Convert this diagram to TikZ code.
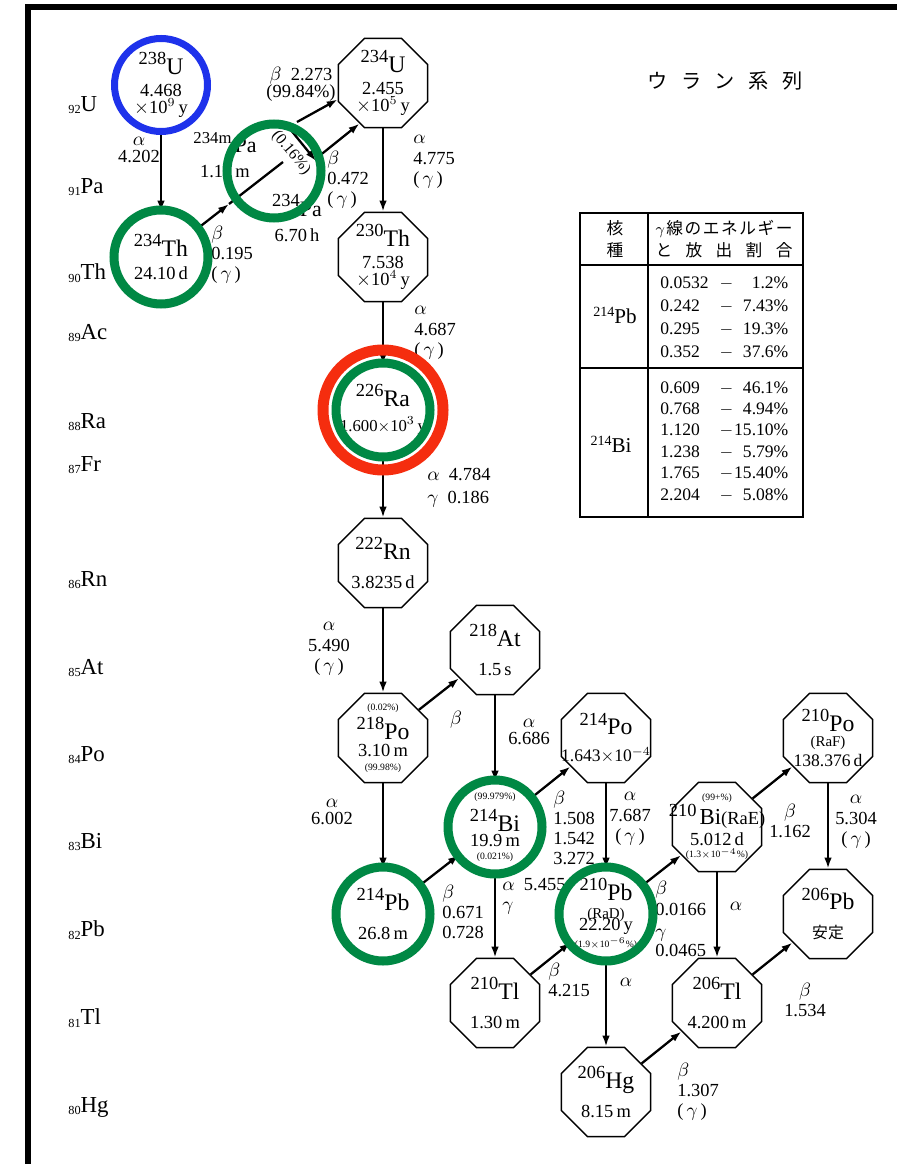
\documentclass[tikz,border=0pt]{standalone}
\usepackage{fontspec}
\setmainfont{Liberation Serif}
\newfontfamily\jp{Noto Sans CJK JP}
\usetikzlibrary{shapes.geometric,arrows.meta}
\definecolor{cblue}{RGB}{30,50,235}
\definecolor{cgreen}{RGB}{0,136,68}
\definecolor{cred}{RGB}{245,45,15}
\newcommand{\fsym}{\fontsize{13.5}{15}\selectfont}
\newcommand{\fnum}{\fontsize{10.5}{11.5}\selectfont}
\newcommand{\fsml}{\fontsize{5.5}{6}\selectfont}
\newcommand{\iso}[2]{\raisebox{5.5pt}{\fnum #1}{\fsym #2}}
\newcommand{\zlab}[2]{\raisebox{-1.5pt}{\fontsize{7}{7}\selectfont #1}{\fontsize{13}{14}\selectfont #2}}
\newcommand{\tiso}[2]{\raisebox{4pt}{\fontsize{8}{8}\selectfont #1}{\fontsize{12}{12}\selectfont #2}}
\newcommand{\gline}[2]{\makebox[11.7mm][l]{#1}\makebox[3mm]{$-$}\makebox[10.9mm][r]{#2}}
\newcommand{\nuc}[3]{\node[oct] (#1) at (#2) {};
  \node[nt] (#1-t) at (#1) {#3};}
\tikzset{
  oct/.style  ={draw,regular polygon,regular polygon sides=8,minimum size=19.3mm,
                inner sep=0pt,line width=0.8pt},
  nt/.style   ={align=center,inner sep=0pt,font={\fnum\lineskiplimit=-99pt}},
  lab/.style  ={align=center,inner sep=0pt,font={\fnum\lineskiplimit=-99pt}},
  labl/.style ={lab,align=left,anchor=west},
  arr/.style  ={-{Latex[length=2.2mm,width=1.5mm]},line width=1.3pt},
  ring/.style ={cgreen,line width=1.8mm},
  elab/.style ={anchor=west,inner sep=0pt},
  tline/.style={line width=1.1pt},
  jtxt/.style ={align=center,inner sep=0pt,font={\jp\fontsize{9.5}{12.5}\selectfont\lineskiplimit=-99pt}},
  trow/.style ={align=left,anchor=west,inner sep=0pt,font={\fontsize{10}{#1}\selectfont\lineskiplimit=-99pt}},
}
\begin{document}
\begin{tikzpicture}[x=0.2mm,y=-0.2mm]
 \useasboundingbox (0,0) rectangle (897,1164);
 \draw[line width=1.2mm] (897,7) -- (28,7) -- (28,1164);
 % element rows
 \foreach \z/\s/\y in {92/U/105,91/Pa/187,90/Th/273,89/Ac/333,88/Ra/422,87/Fr/465,86/Rn/580,
                       85/At/668,84/Po/755,83/Bi/842,82/Pb/930,81/Tl/1018,80/Hg/1107}
   \node[elab] (z\z) at (68,\y) {\zlab{\z}{\s}};
 % nuclides
 \nuc{u238}{161,85}{\iso{238}{U}\\[1pt]4.468\\[-1.8pt]$\times$10$^{9}$\,y}
 \nuc{th234}{161,257}{\iso{234}{Th}\\[1.6pt]24.10\,d}
 \nuc{u234}{383,83}{\iso{234}{U}\\[1pt]2.455\\[-1.8pt]$\times$10$^{5}$\,y}
 \nuc{th230}{383,257}{\iso{230}{Th}\\[1pt]7.538\\[-1.8pt]$\times$10$^{4}$\,y}
 \nuc{ra226}{383,410}{\iso{226}{Ra}\\[2.7pt]{\fontsize{9.5}{10}\selectfont 1.600$\times$10$^{3}$\,y}}
 \nuc{rn222}{383,563}{\iso{222}{Rn}\\[5pt]3.8235\,d}
 \nuc{po218}{383,738}{{\fsml(0.02\%)}\\[5pt]\iso{218}{Po}\\[-1.8pt]3.10\,m\\[-3.5pt]{\fsml(99.98\%)}}
 \nuc{at218}{495,650}{\iso{218}{At}\\[5pt]1.5\,s}
 \nuc{pb214}{383,914}{\iso{214}{Pb}\\[5pt]26.8\,m}
 \nuc{bi214}{495,827}{{\fsml(99.979\%)}\\[6.5pt]\iso{214}{Bi}\\[-3pt]19.9\,m\\[-4pt]{\fsml(0.021\%)}}
 \nuc{po214}{606,738}{\iso{214}{Po}\\[3.9pt]{\fontsize{10}{11}\selectfont 1.643$\times$10$^{-4}$}}
 \nuc{tl210}{495,1003}{\iso{210}{Tl}\\[5pt]1.30\,m}
 \nuc{pb210}{606,914}{\iso{210}{Pb}\\[-1.3pt]{\fontsize{8.5}{9}\selectfont(RaD)}\\[-4.7pt]22.20\,y\\[-1.8pt]{\fsml(1.9$\times$10$^{-6}$\%)}}
 \nuc{hg206}{606,1092}{\iso{206}{Hg}\\[5pt]8.15\,m}
 \nuc{bi210}{717,827}{{\fsml(99+\%)}\\[2.2pt]\raisebox{5pt}{210}\,{\fontsize{13}{13}\selectfont Bi}{\fontsize{10.5}{11}\selectfont(RaE)}\\[0.5pt]5.012\,d\\[-4.7pt]{\fsml(1.3$\times$10$^{-4}$\%)}}
 \nuc{tl206}{717,1003}{\iso{206}{Tl}\\[5pt]4.200\,m}
 \nuc{po210}{828,738}{\iso{210}{Po}\\[-3pt]{\fontsize{8.5}{9}\selectfont(RaF)}\\[0pt]{\fontsize{10}{11}\selectfont 138.376\,d}}
 \nuc{pb206}{828,914}{\iso{206}{Pb}\\[5pt]{\jp\fontsize{9}{10}\selectfont 安定}}
 % 234Pa pair
 \coordinate (pa) at (274,171);
 \coordinate (pa-in) at (229,204);
 \coordinate (pa-div) at (283,162);
 \coordinate (pam-o) at (297,122);
 \coordinate (pa-o) at (318,157);
 \coordinate (it-a) at (290,129);
 \coordinate (it-b) at (316,161);
 \node[lab] (pam) at (225,155) {\raisebox{5.5pt}{\fontsize{9.5}{10}\selectfont 234m}\,{\fontsize{12.5}{13}\selectfont Pa}\\[2.7pt]1.17\,m};
 \node[lab] (pag) at (297,218) {\raisebox{5.5pt}{\fnum 234}{\fontsize{12.5}{13}\selectfont Pa}\\[2.7pt]6.70\,h};
 \node[lab,rotate=-50,font=\fontsize{9}{10}\selectfont] (it-l) at (291,153) {(0.16\%)};
 % decays
 \draw[arr] (u238) -- (th234);
 \draw[arr] (th234) -- (pa-in);
 \draw[line width=1.3pt] (pa-in) -- (pa-div);
 \draw[arr] (pam-o) -- (u234.200);
 \draw[arr] (pa-o) -- (u234.240);
 \draw[arr] (it-a) -- (it-b);
 \draw[arr] (u234) -- (th230);
 \draw[arr] (th230) -- (ra226);
 \draw[arr] (ra226) -- (rn222);
 \draw[arr] (rn222) -- (po218);
 \draw[arr] (po218) -- (at218);
 \draw[arr] (po218) -- (pb214);
 \draw[arr] (at218) -- (bi214);
 \draw[arr] (pb214) -- (bi214);
 \draw[arr] (bi214) -- (po214);
 \draw[arr] (bi214) -- (tl210);
 \draw[arr] (po214) -- (pb210);
 \draw[arr] (tl210) -- (pb210);
 \draw[arr] (pb210) -- (bi210);
 \draw[arr] (pb210) -- (hg206);
 \draw[arr] (hg206) -- (tl206);
 \draw[arr] (bi210) -- (po210);
 \draw[arr] (bi210) -- (tl206);
 \draw[arr] (po210) -- (pb206);
 \draw[arr] (tl206) -- (pb206);
 % decay labels
 \node[lab] (a1) at (139,150) {$\alpha$\\[-2pt]4.202};
 \node[labl] (b1) at (211,255) {$\beta$\\0.195\\(\,$\gamma$\,)};
 \node[lab] (b2) at (301,84) {$\beta$\ \ 2.273\\[-2pt](99.84\%)};
 \node[labl] (b3) at (327,180) {$\beta$\\0.472\\(\,$\gamma$\,)};
 \node[labl] (a2) at (413,162) {$\alpha$\\4.775\\(\,$\gamma$\,)};
 \node[labl] (a3) at (414,333) {$\alpha$\\4.687\\(\,$\gamma$\,)};
 \node[labl] (a4) at (427,488) {$\alpha$\ \ 4.784\\[1.5pt]$\gamma$\ \ 0.186};
 \node[lab] (a5) at (329,649) {$\alpha$\\5.490\\(\,$\gamma$\,)};
 \node[lab] (b4) at (456,720) {$\beta$};
 \node[lab] (a6) at (529,732) {$\alpha$\\[-2pt]6.686};
 \node[lab] (a7) at (332,812) {$\alpha$\\[-2pt]6.002};
 \node[labl] (b5) at (553,828) {$\beta$\\1.508\\1.542\\3.272};
 \node[lab] (a8) at (630,819) {$\alpha$\\7.687\\(\,$\gamma$\,)};
 \node[labl] (b6) at (442,912) {$\beta$\\0.671\\0.728};
 \node[labl] (a9) at (502,896) {$\alpha$\ \ 5.455\\$\gamma$};
 \node[labl] (b7) at (655,919) {$\beta$\\0.0166\\[1.5pt]$\gamma$\\[-1pt]0.0465};
 \node[labl] (b8) at (548,980) {$\beta$\\4.215};
 \node[lab] (a10) at (626,982) {$\alpha$};
 \node[labl] (b9) at (677,1092) {$\beta$\\1.307\\(\,$\gamma$\,)};
 \node[lab] (a11) at (736,906) {$\alpha$};
 \node[lab] (b10) at (790,821) {$\beta$\\1.162};
 \node[lab] (a12) at (856,822) {$\alpha$\\5.304\\(\,$\gamma$\,)};
 \node[lab] (b11) at (805,1000) {$\beta$\\1.534};
 % title and gamma table
 \node[inner sep=0pt,font={\jp\fontsize{11.5}{12}\selectfont}] (title) at (725,81)
   {\makebox[31mm][s]{ウ\hfill ラ\hfill ン\hfill 系\hfill 列}};
 \draw[tline] (580,213) rectangle (803,517);
 \draw[tline] (648,213) -- (648,517);
 \draw[tline] (580,265) -- (803,265);
 \draw[tline] (580,368) -- (803,368);
 \node[jtxt] (h-nuc) at (615,239) {核\\種};
 \node[jtxt] (h-gam) at (724,239)
   {\makebox[27.4mm][s]{$\gamma$\hfill 線\hfill の\hfill エ\hfill ネ\hfill ル\hfill ギ\hfill ー}\\\makebox[27.4mm][s]{と\hfill 放\hfill 出\hfill 割\hfill 合}};
 \node[inner sep=0pt] (t-pb) at (615,315) {\tiso{214}{Pb}};
 \node[inner sep=0pt] (t-bi) at (611,444) {\tiso{214}{Bi}};
 \node[trow=13.1pt] (t-pbg) at (660,317.5)
   {\gline{0.0532}{1.2\%}\\\gline{0.242}{7.43\%}\\\gline{0.295}{19.3\%}\\\gline{0.352}{37.6\%}};
 \node[trow=12.2pt] (t-big) at (660,441.5)
   {\gline{0.609}{46.1\%}\\\gline{0.768}{4.94\%}\\\gline{1.120}{15.10\%}\\\gline{1.238}{5.79\%}\\\gline{1.765}{15.40\%}\\\gline{2.204}{5.08\%}};
 % highlight rings
 \draw[cblue,line width=1.4mm] (u238) circle (46.5);
 \foreach \n in {th234,pa,bi214,pb214,pb210}
   \draw[ring] (\n) circle (47);
 \draw[ring] (ra226) circle (47);
 \draw[cred,line width=2.2mm] (ra226) circle (60);
\end{tikzpicture}
\end{document}
